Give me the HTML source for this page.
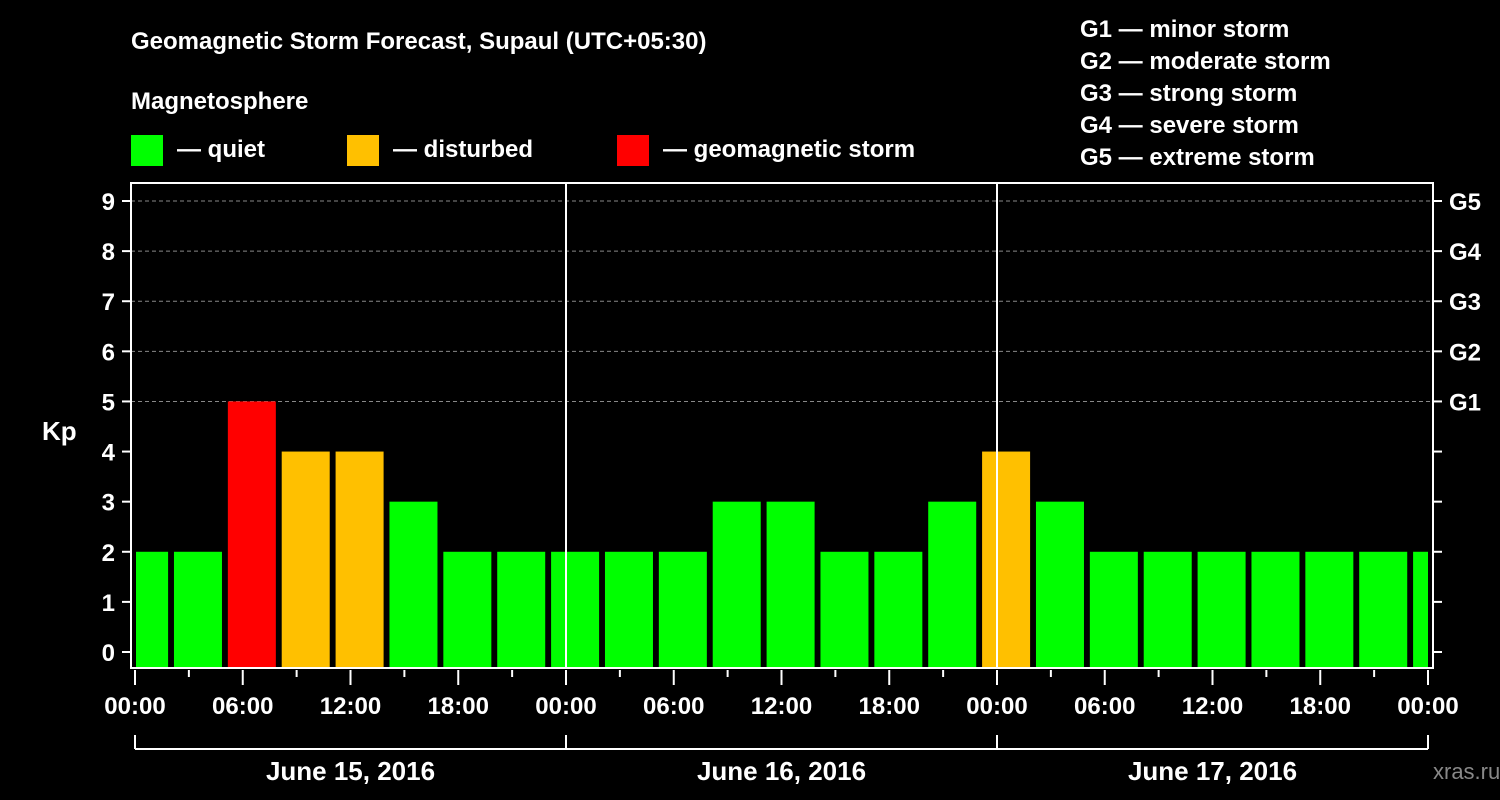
<!DOCTYPE html>
<html><head><meta charset="utf-8"><style>
body{margin:0;background:#000;width:1500px;height:800px;overflow:hidden}
svg{display:block;font-family:"Liberation Sans",sans-serif;font-weight:bold;fill:#fff}
</style></head><body>
<svg id="c" width="1500" height="800" viewBox="0 0 1500 800">
<text x="131" y="49" font-size="24">Geomagnetic Storm Forecast, Supaul (UTC+05:30)</text>
<text x="131" y="109" font-size="24">Magnetosphere</text>
<g><rect x="131" y="135" width="32" height="31" fill="#00ff00"/><text x="177" y="157" font-size="24">— quiet</text></g>
<g><rect x="347" y="135" width="32" height="31" fill="#ffc000"/><text x="393" y="157" font-size="24">— disturbed</text></g>
<g><rect x="617" y="135" width="32" height="31" fill="#ff0000"/><text x="663" y="157" font-size="24">— geomagnetic storm</text></g>
<g font-size="24">
<text x="1080" y="37">G1 — minor storm</text>
<text x="1080" y="69">G2 — moderate storm</text>
<text x="1080" y="101">G3 — strong storm</text>
<text x="1080" y="133">G4 — severe storm</text>
<text x="1080" y="165">G5 — extreme storm</text>
</g>
<text x="42" y="440" font-size="26">Kp</text>
<text x="1433" y="779" font-size="22" fill="#888" style="font-weight:normal">xras.ru</text>
<g id="grid"></g><g id="bars"></g><g id="axes"></g>
</svg>
<script>
const values=[2,2,5,4,4,3,2,2,2,2,2,3,3,2,2,3,4,3,2,2,2,2,2,2,2];
const yTicks=[0,1,2,3,4,5,6,7,8,9];
const gLabels=["G1","G2","G3","G4","G5"];
const xLabels=["00:00","06:00","12:00","18:00","00:00","06:00","12:00","18:00","00:00","06:00","12:00","18:00","00:00"];
const days=["June 15, 2016","June 16, 2016","June 17, 2016"];
const NS="http://www.w3.org/2000/svg";
const L=131,R=1433,T=183,B=668,X0=135,X1=1428;
const xs=h=>X0+(X1-X0)*h/72;
const ys=v=>652-(652-201)*v/9;
function mk(tag,attrs,parent,txt){const e=document.createElementNS(NS,tag);for(const k in attrs)e.setAttribute(k,attrs[k]);if(txt!==undefined)e.textContent=txt;document.getElementById(parent).appendChild(e);return e;}
// grid
for(let v=5;v<=9;v++){const e=mk('line',{x1:L,x2:R,y1:ys(v),y2:ys(v),stroke:'#888','stroke-dasharray':'4,3','stroke-width':1},'grid');

}
// bars
values.forEach((v,i)=>{const hs=-0.83+3*i;let x0=xs(hs)+0,x1=x0+48;x0=Math.max(x0,L+5);x1=Math.min(x1,R-5);
const col=v>=5?'#ff0000':v>=4?'#ffc000':'#00ff00';
const r=mk('rect',{x:x0,y:ys(v),width:x1-x0,height:B-ys(v),fill:col},'bars');

});
// day separators
for(let d=1;d<3;d++){const e=mk('line',{x1:xs(24*d),x2:xs(24*d),y1:T,y2:B,stroke:'#fff','stroke-width':2},'axes');

}
// frame
const f=mk('rect',{x:L,y:T,width:R-L,height:B-T,fill:'none',stroke:'#fff','stroke-width':2},'axes');


// y ticks
yTicks.forEach(v=>{const y=ys(v);mk('line',{x1:L-9,x2:L,y1:y,y2:y,stroke:'#fff','stroke-width':2},'axes');
mk('line',{x1:R,x2:R+9,y1:y,y2:y,stroke:'#fff','stroke-width':2},'axes');
const t=mk('text',{x:115,y:y+9,'font-size':24,'text-anchor':'end'},'axes',v);

});
gLabels.forEach((g,i)=>{const t=mk('text',{x:1449,y:ys(5+i)+9,'font-size':24},'axes',g);

});
// x ticks
for(let h=0;h<=72;h+=3){const maj=h%6===0;mk('line',{x1:xs(h),x2:xs(h),y1:B+2,y2:B+(maj?17:9),stroke:'#fff','stroke-width':2},'axes');}
xLabels.forEach((s,i)=>{const t=mk('text',{x:xs(6*i),y:714,'font-size':24,'text-anchor':'middle'},'axes',s);

});
// day brackets
mk('line',{x1:xs(0),x2:xs(72),y1:749,y2:749,stroke:'#fff','stroke-width':2},'axes');
for(let d=0;d<=3;d++)mk('line',{x1:xs(24*d),x2:xs(24*d),y1:735,y2:749,stroke:'#fff','stroke-width':2},'axes');
days.forEach((s,i)=>{const t=mk('text',{x:xs(24*i+12),y:780,'font-size':26,'text-anchor':'middle'},'axes',s);

});
</script>
</body></html>
